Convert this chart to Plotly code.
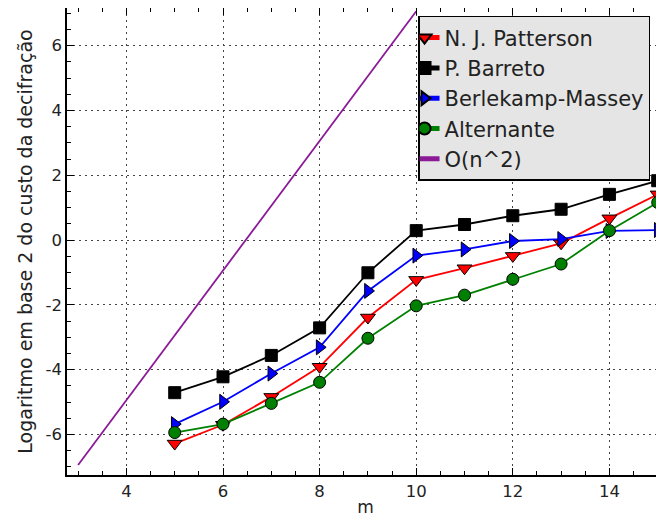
import plotly.graph_objects as go

m_vals = [5, 6, 7, 8, 9, 10, 11, 12, 13, 14, 15]
patterson = [-6.28, -5.70, -4.84, -3.91, -2.39, -1.23, -0.87, -0.49, -0.10, 0.67, 1.41]
barreto = [-4.71, -4.22, -3.56, -2.71, -1.01, 0.29, 0.48, 0.75, 0.95, 1.41, 1.83]
berlekamp = [-5.68, -4.99, -4.12, -3.31, -1.57, -0.48, -0.29, -0.03, 0.03, 0.28, 0.31]
alternante = [-5.94, -5.68, -5.04, -4.39, -3.03, -2.03, -1.70, -1.21, -0.74, 0.29, 1.16]

on2_m = [3, 4, 5, 6, 7, 8, 9, 10]
on2_vals = [-6.94, -4.94, -2.94, -0.94, 1.06, 3.06, 5.06, 7.06]

x_ticks = [4, 6, 8, 10, 12, 14]
x_tick_labels = ["4", "6", "8", "10", "12", "14"]
y_ticks = [-6, -4, -2, 0, 2, 4, 6]
y_tick_labels = ["-6", "-4", "-2", "0", "2", "4", "6"]

FONT = "DejaVu Sans"

fig = go.Figure()

def add_series(x, y, name, color, symbol, size):
    fig.add_trace(go.Scatter(
        x=x, y=y, name=name, mode="lines+markers",
        line=dict(color=color, width=1.8),
        marker=dict(color=color, symbol=symbol, size=size,
                    line=dict(color="black", width=1)),
    ))

add_series(m_vals, patterson, "N. J. Patterson", "#ff0000", "triangle-down", 13)
add_series(m_vals, barreto, "P. Barreto", "#000000", "square", 12)
add_series(m_vals, berlekamp, "Berlekamp-Massey", "#0000ff", "triangle-right", 13)
add_series(m_vals, alternante, "Alternante", "#008000", "circle", 12)

fig.add_trace(go.Scatter(
    x=on2_m, y=on2_vals, name="O(n^2)", mode="lines",
    line=dict(color="#8b1a96", width=1.8),
))

axis_common = dict(
    showline=True, linecolor="black", linewidth=1.5,
    ticks="inside", ticklen=7, tickcolor="black", tickwidth=1,
    showgrid=True, gridcolor="#444444", gridwidth=1, griddash="2px,4px",
    zeroline=False, automargin=False,
    tickfont=dict(family=FONT, size=16.5, color="#222222"),
)

# the page body adds an 8px offset; the figure is sized to fit the 664x517 window
fig.update_layout(
    width=656, height=509,
    margin=dict(l=59, r=0, t=0, b=42),
    plot_bgcolor="white", paper_bgcolor="white",
    font=dict(family=FONT, color="#222222"),
    xaxis=dict(
        range=[2.77, 15.13],
        tickvals=x_ticks, ticktext=x_tick_labels,
        mirror="ticks",
        minor=dict(ticks="inside", dtick=0.5, tick0=0, ticklen=4, tickcolor="black", showgrid=False),
        title=dict(text="m", font=dict(family=FONT, size=17, color="#222222"), standoff=2),
        **axis_common,
    ),
    yaxis=dict(
        range=[-7.25, 7.16],
        tickvals=y_ticks, ticktext=y_tick_labels,
        minor=dict(ticks="inside", dtick=0.5, tick0=0, ticklen=4, tickcolor="black", showgrid=False),
        title=dict(text="Logaritmo em base 2 do custo da decifração",
                   font=dict(family=FONT, size=19, color="#222222"), standoff=8),
        **axis_common,
    ),
    legend=dict(
        x=0.588, y=0.983, xanchor="left", yanchor="top",
        bgcolor="#e5e5e5", bordercolor="black", borderwidth=1.5,
        font=dict(family=FONT, size=21, color="#222222"),
        itemwidth=30, tracegroupgap=0, itemsizing="constant",
        indentation=-15,
    ),
    showlegend=True,
)

fig.write_html("out.html")
